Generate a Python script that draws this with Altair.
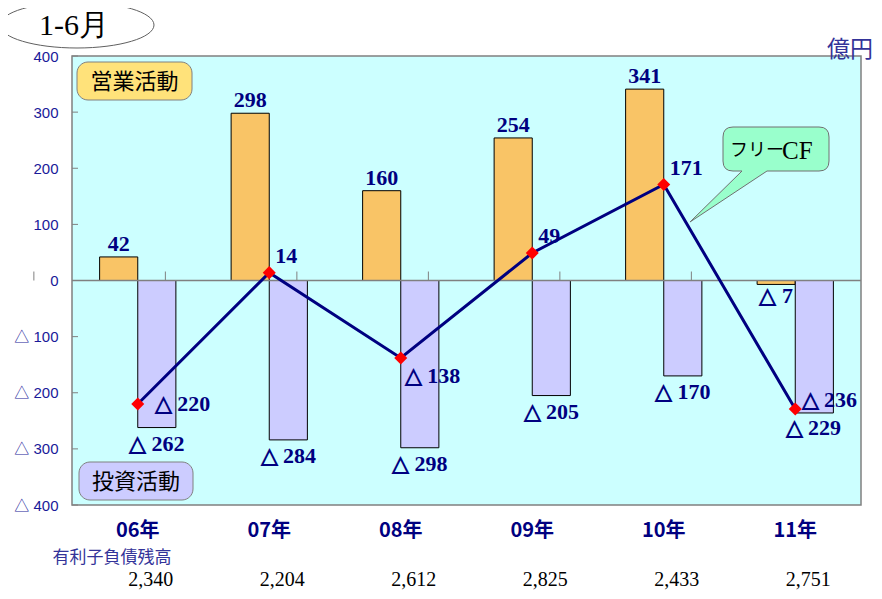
import altair as alt
import pandas as pd

cats = ["06年", "07年", "08年", "09年", "10年", "11年"]
operating = [42, 298, 160, 254, 341, -7]
investing = [-262, -284, -298, -205, -170, -236]
free_cf = [-220, 14, -138, 49, 171, -229]
debt = ["2,340", "2,204", "2,612", "2,825", "2,433", "2,751"]
y_ticks = [400, 300, 200, 100, 0, -100, -200, -300, -400]


def fmt(v):
    return f"△ {abs(v)}" if v < 0 else str(v)


bars = pd.DataFrame({
    "cat": cats * 2,
    "series": ["op"] * len(cats) + ["inv"] * len(cats),
    "value": operating + investing,
})
bars["label"] = bars["value"].map(fmt)
cf = pd.DataFrame({"cat": cats, "fcf": free_cf, "debt": debt})
cf["label"] = cf["fcf"].map(fmt)
ticks_df = pd.DataFrame({"v": y_ticks})
one = pd.DataFrame({"t": [""]})

W, H = 789, 449
NAVY = "#000080"
SERIF = "Liberation Serif"
SANS = "Noto Sans CJK JP"

x_scale = alt.Scale(paddingInner=0.42, paddingOuter=0.21)
y_scale = alt.Scale(domain=[-400, 400], nice=False, zero=False)


def X():
    return alt.X("cat:N", sort=cats, scale=x_scale, title=None)


def Y(f):
    return alt.Y(f, scale=y_scale, title=None)


def XO():
    return alt.XOffset("series:N", sort=["op", "inv"], scale=alt.Scale(paddingInner=0, paddingOuter=0))


bar_layer = alt.Chart(bars).mark_bar(stroke="black", strokeWidth=1).encode(
    x=X(),
    xOffset=XO(),
    y=alt.Y("value:Q", scale=y_scale, title=None,
            axis=alt.Axis(values=y_ticks,
                          labelExpr="datum.value < 0 ? '△ ' + (-datum.value) : '' + datum.value")),
    color=alt.Color("series:N", scale=alt.Scale(domain=["op", "inv"], range=["#F9C466", "#CCCCFF"]), legend=None),
)

zero_line = alt.Chart(one).mark_rule(color="#808080", strokeWidth=1.5).encode(y=alt.datum(0))

xticks = alt.Chart(cf).mark_rule(color="#808080", strokeWidth=1).encode(
    x=X(), xOffset=alt.value(-W / len(cats) / 2), y=alt.datum(0), y2=alt.datum(16)
)

yticks = alt.Chart(ticks_df).mark_rule(color="#808080", strokeWidth=1).encode(
    y=Y("v:Q"), x=alt.value(0), x2=alt.value(6)
)

line = alt.Chart(cf).mark_line(color=NAVY, strokeWidth=3).encode(x=X(), y=Y("fcf:Q"))
pts = alt.Chart(cf).mark_point(shape="diamond", filled=True, color="#FF0000", size=170, opacity=1).encode(
    x=X(), y=Y("fcf:Q"))


def lab(data, flt, y, **kw):
    base = dict(font=SERIF, fontWeight="bold", fontSize=22, color=NAVY)
    base.update(kw)
    ch = alt.Chart(data).transform_filter(flt).mark_text(**base)
    enc = dict(x=X(), y=Y(y), text="label:N")
    if data is bars:
        enc["xOffset"] = XO()
    return ch.encode(**enc)


op_pos = lab(bars, "datum.series == 'op' && datum.value >= 0", "value:Q", baseline="alphabetic", dy=-6)
op_neg = lab(bars, "datum.series == 'op' && datum.value < 0", "value:Q", baseline="top", dy=2)
inv_lab = lab(bars, "datum.series == 'inv' && datum.cat != '11年'", "value:Q", baseline="top", dy=6)
inv_last = lab(bars, "datum.series == 'inv' && datum.cat == '11年'", "value:Q", baseline="alphabetic", dx=15, dy=-6)

cf_a = lab(cf, alt.FieldOneOfPredicate(field="cat", oneOf=["07年", "09年", "10年"]), "fcf:Q",
           align="left", baseline="alphabetic", dx=6, dy=-10)
cf_b = lab(cf, alt.FieldEqualPredicate(field="cat", equal="06年"), "fcf:Q",
           align="left", baseline="middle", dx=17)
cf_c = lab(cf, alt.FieldEqualPredicate(field="cat", equal="08年"), "fcf:Q",
           align="left", baseline="top", dx=4, dy=8)
cf_d = lab(cf, alt.FieldEqualPredicate(field="cat", equal="11年"), "fcf:Q",
           align="center", baseline="top", dx=18, dy=9)

debt_vals = alt.Chart(cf).mark_text(font=SERIF, fontSize=20, color="black", baseline="middle", dx=13).encode(
    x=X(), y=alt.value(524), text="debt:N")
debt_title = alt.Chart(pd.DataFrame({"t": ["有利子負債残高"]})).mark_text(
    font=SANS, fontSize=17, color="#333399", baseline="middle").encode(
    x=alt.value(40), y=alt.value(502), text="t:N")

unit = alt.Chart(pd.DataFrame({"t": ["億円"]})).mark_text(
    font=SANS, fontSize=23, color="#333399", baseline="middle").encode(
    x=alt.value(778), y=alt.value(-6), text="t:N")

ellipse_path = "M -77 0 A 77 23 0 1 0 77 0 A 77 23 0 1 0 -77 0 Z"
ellipse = alt.Chart(one).mark_point(shape=ellipse_path, size=4, filled=True, fill="white",
                                    stroke="#606060", strokeWidth=1, opacity=1).encode(
    x=alt.value(5), y=alt.value(-31))
title_txt = alt.Chart(pd.DataFrame({"t": ["1-6月"]})).mark_text(
    font=SERIF, fontSize=30, color="black", baseline="middle").encode(
    x=alt.value(2), y=alt.value(-30), text="t:N")

op_box = alt.Chart(one).mark_rect(cornerRadius=11, fill="#FFE27A", stroke="#808080", strokeWidth=1).encode(
    x=alt.value(5), x2=alt.value(120), y=alt.value(6), y2=alt.value(44))
op_txt = alt.Chart(pd.DataFrame({"t": ["営業活動"]})).mark_text(
    font=SANS, fontSize=22, color="black", baseline="middle").encode(
    x=alt.value(62.5), y=alt.value(26), text="t:N")

inv_box = alt.Chart(one).mark_rect(cornerRadius=11, fill="#CCCCFF", stroke="#808080", strokeWidth=1).encode(
    x=alt.value(7), x2=alt.value(121), y=alt.value(406), y2=alt.value(444))
inv_txt = alt.Chart(pd.DataFrame({"t": ["投資活動"]})).mark_text(
    font=SANS, fontSize=22, color="black", baseline="middle").encode(
    x=alt.value(64), y=alt.value(426), text="t:N")

callout_path = ("M -43 -22 L 43 -22 Q 53 -22 53 -12 L 53 12 Q 53 22 43 22 L -9 22 L -86 73 "
                "L -34 22 L -43 22 Q -53 22 -53 12 L -53 -12 Q -53 -22 -43 -22 Z")
callout = alt.Chart(one).mark_point(shape=callout_path, size=4, filled=True, fill="#99FFCC",
                                    stroke="#707070", strokeWidth=1, opacity=1).encode(
    x=alt.value(704), y=alt.value(93))
callout_a = alt.Chart(pd.DataFrame({"t": ["フリー"]})).mark_text(
    font=SANS, fontSize=18, color="black", baseline="middle", align="right", dx=2).encode(
    x=alt.value(710), y=alt.value(95), text="t:N")
callout_b = alt.Chart(pd.DataFrame({"t": ["CF"]})).mark_text(
    font=SERIF, fontSize=25, color="black", baseline="middle", align="left").encode(
    x=alt.value(710), y=alt.value(95), text="t:N")

chart = alt.layer(
    bar_layer, zero_line, xticks, yticks, line, pts,
    op_pos, op_neg, inv_lab, inv_last, cf_a, cf_b, cf_c, cf_d,
    debt_vals, debt_title, unit, ellipse, title_txt,
    op_box, op_txt, inv_box, inv_txt, callout, callout_a, callout_b,
).properties(
    width=W, height=H,
    autosize=alt.AutoSizeParams(type="none"),
    padding={"left": 64, "top": 48, "right": 13, "bottom": 86},
).configure_view(
    fill="#CCFFFF", stroke="#808080", strokeWidth=1.5
).configure_axisX(
    ticks=False, tickSize=0, domain=False, grid=False, labelAngle=0, labelPadding=15,
    labelFont=SANS, labelFontWeight="bold", labelFontSize=20, labelColor=NAVY,
).configure_axisY(
    ticks=False, tickSize=0, domain=False, grid=False, labelPadding=14,
    labelFont="Liberation Sans, Noto Sans CJK JP", labelFontSize=15, labelColor="#1A1A99",
)

chart.save("out.html", embed_options={"renderer": "svg", "actions": False})
